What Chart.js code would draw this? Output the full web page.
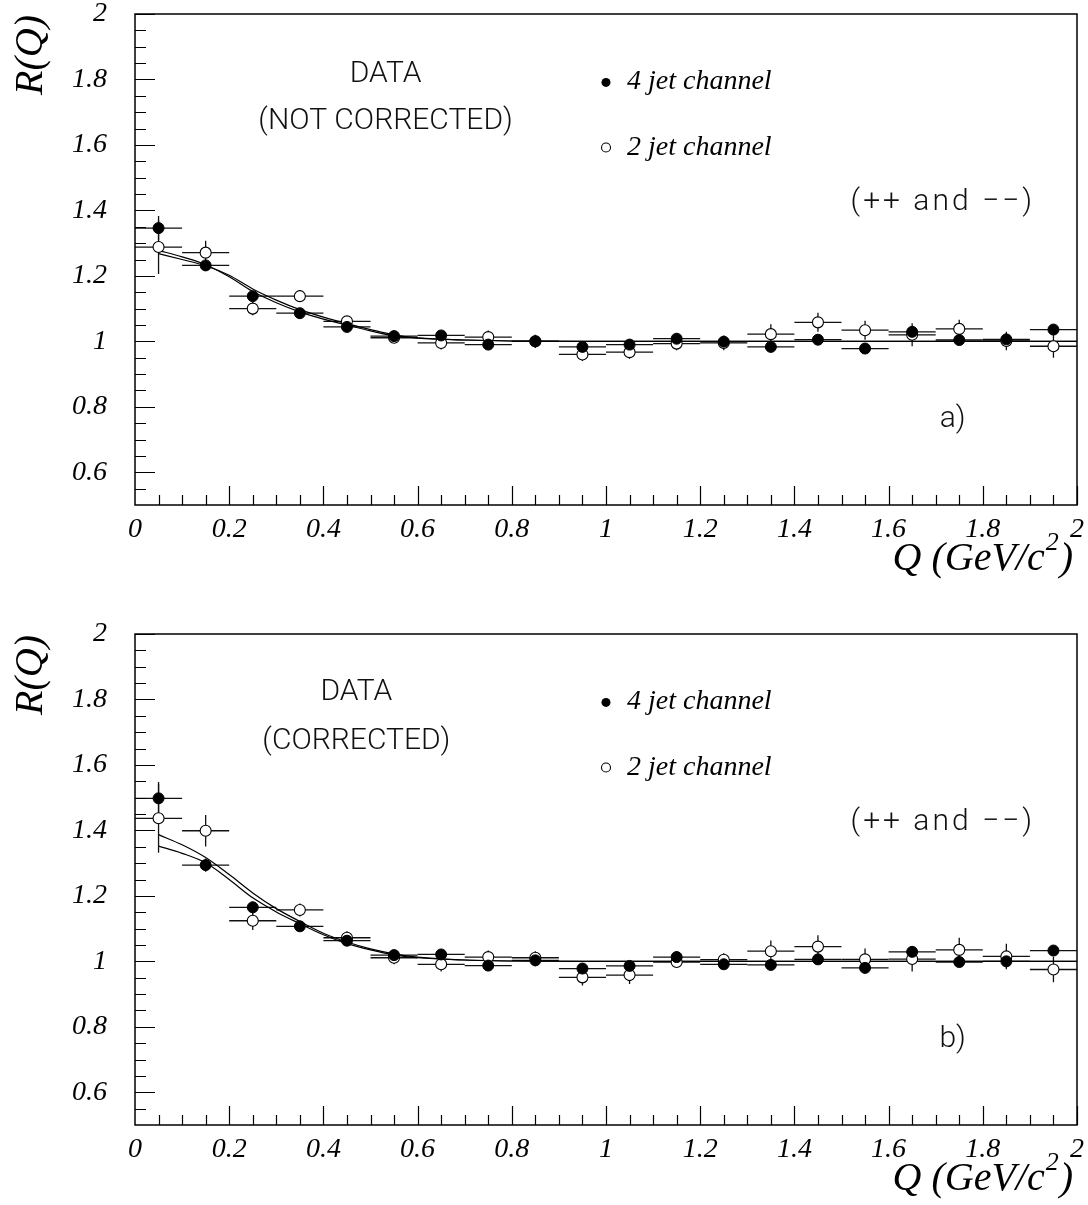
<!DOCTYPE html>
<html>
<head>
<meta charset="utf-8">
<script src="https://cdn.jsdelivr.net/npm/chart.js@4.4.0/dist/chart.umd.min.js"></script>
<style>
  html, body { margin: 0; padding: 0; background: #fff; }
  #wrap { position: relative; width: 1088px; height: 1205px; }
  canvas { position: absolute; left: 0; }
</style>
</head>
<body>
<div id="wrap">
  <canvas id="panelA" width="1088" height="600" style="top:0"></canvas>
  <canvas id="panelB" width="1088" height="605" style="top:600px"></canvas>
</div>
<script>
// bin centres in Q (GeV/c^2), bins are 0.1 wide
const qBins = [0.05, 0.15, 0.25, 0.35, 0.45, 0.55, 0.65, 0.75, 0.85, 0.95,
               1.05, 1.15, 1.25, 1.35, 1.45, 1.55, 1.65, 1.75, 1.85, 1.95];
const halfBin = 0.05;

const xTickVals = [0, 0.2, 0.4, 0.6, 0.8, 1, 1.2, 1.4, 1.6, 1.8, 2];
const yTickVals = [0.6, 0.8, 1, 1.2, 1.4, 1.6, 1.8, 2];

// a) not corrected
const fourJetA    = [1.346, 1.232, 1.138, 1.086, 1.044, 1.016, 1.018, 0.990, 1.000, 0.983,
                     0.990, 1.008, 0.999, 0.983, 1.005, 0.978, 1.029, 1.004, 1.006, 1.036];
const fourJetErrA = [0.037, 0.016, 0.015, 0.012, 0.012, 0.012, 0.012, 0.012, 0.014, 0.012,
                     0.012, 0.012, 0.018, 0.012, 0.012, 0.012, 0.018, 0.012, 0.018, 0.015];
const twoJetA     = [1.288, 1.271, 1.100, 1.138, 1.061, 1.011, 0.995, 1.013, 1.000, 0.960,
                     0.967, 0.993, 0.995, 1.022, 1.058, 1.034, 1.020, 1.038, 1.001, 0.985];
const twoJetErrA  = [0.082, 0.036, 0.020, 0.018, 0.016, 0.016, 0.020, 0.020, 0.020, 0.020,
                     0.020, 0.020, 0.022, 0.030, 0.029, 0.029, 0.035, 0.028, 0.028, 0.035];

// b) corrected
const fourJetB    = [1.498, 1.294, 1.165, 1.107, 1.063, 1.019, 1.021, 0.987, 1.003, 0.978,
                     0.986, 1.013, 0.991, 0.989, 1.006, 0.980, 1.029, 0.998, 1.000, 1.033];
const fourJetErrB = [0.050, 0.020, 0.018, 0.014, 0.014, 0.014, 0.014, 0.014, 0.018, 0.014,
                     0.014, 0.018, 0.014, 0.014, 0.014, 0.014, 0.014, 0.014, 0.018, 0.014];
const twoJetB     = [1.437, 1.399, 1.124, 1.157, 1.072, 1.011, 0.991, 1.013, 1.011, 0.951,
                     0.958, 0.998, 1.005, 1.031, 1.045, 1.006, 1.007, 1.035, 1.015, 0.975];
const twoJetErrB  = [0.105, 0.048, 0.028, 0.020, 0.020, 0.020, 0.022, 0.020, 0.020, 0.025,
                     0.027, 0.016, 0.020, 0.033, 0.035, 0.033, 0.038, 0.037, 0.039, 0.039];

// fit curves
const fitQ  = [0.05, 0.1, 0.15, 0.2, 0.25, 0.3, 0.35, 0.4, 0.45, 0.5, 0.55, 0.6, 0.7, 0.8, 1.0, 1.5, 2.0];
const fitA1 = [1.278, 1.258, 1.234, 1.197, 1.152, 1.118, 1.090, 1.068, 1.050, 1.032, 1.017, 1.010, 1.004, 1.001, 1.000, 1.000, 1.000];
const fitA2 = [1.268, 1.250, 1.231, 1.202, 1.160, 1.126, 1.097, 1.074, 1.054, 1.036, 1.020, 1.011, 1.004, 1.001, 1.000, 1.000, 1.000];
const fitB1 = [1.387, 1.356, 1.317, 1.265, 1.209, 1.161, 1.122, 1.086, 1.059, 1.038, 1.023, 1.013, 1.004, 1.001, 1.000, 1.000, 1.000];
const fitB2 = [1.352, 1.330, 1.301, 1.250, 1.194, 1.151, 1.115, 1.081, 1.054, 1.035, 1.020, 1.011, 1.004, 1.001, 1.000, 1.000, 1.000];

const serifIt = size => 'italic ' + size + 'px "Liberation Serif", "DejaVu Serif", serif';
const sansLight = size => '300 ' + size + 'px Roboto, "Liberation Sans", sans-serif';

const pts = (xs, ys) => xs.map((x, i) => ({x: x, y: ys[i]}));

// frame, inward ticks, error bars, titles and notes
const decor = {
  id: 'decor',
  beforeDatasetsDraw(chart) {
    const {ctx, scales: {x, y}} = chart;
    ctx.save();
    ctx.strokeStyle = '#111';
    ctx.lineWidth = 1.3;
    chart.data.datasets.forEach(ds => {
      if (!ds.errY) return;
      ds.data.forEach((p, i) => {
        const px = x.getPixelForValue(p.x), py = y.getPixelForValue(p.y);
        ctx.beginPath();
        ctx.moveTo(x.getPixelForValue(p.x - halfBin), py);
        ctx.lineTo(x.getPixelForValue(p.x + halfBin), py);
        ctx.moveTo(px, y.getPixelForValue(p.y - ds.errY[i]));
        ctx.lineTo(px, y.getPixelForValue(p.y + ds.errY[i]));
        ctx.stroke();
      });
    });
    ctx.restore();
  },
  afterDraw(chart, args, opts) {
    const {ctx, chartArea: a, scales: {x, y}} = chart;
    ctx.save();
    ctx.strokeStyle = '#000';
    ctx.lineWidth = 1.5;
    ctx.strokeRect(a.left, a.top, a.right - a.left, a.bottom - a.top);

    // ticks pointing into the frame
    ctx.lineWidth = 1.2;
    ctx.beginPath();
    for (let i = 1; i <= 30; i++) {
      const py = Math.round(y.getPixelForValue(0.5 + i * 0.05)) + 0.5;
      const len = (i % 4 === 2) ? 20 : 11;
      ctx.moveTo(a.left, py); ctx.lineTo(a.left + len, py);
    }
    for (let i = 1; i <= 40; i++) {
      const px = Math.round(x.getPixelForValue(i * 0.05)) + 0.5;
      const len = (i % 4 === 0) ? 19 : 10;
      ctx.moveTo(px, a.bottom); ctx.lineTo(px, a.bottom - len);
    }
    ctx.stroke();

    ctx.fillStyle = '#000';
    // y title
    ctx.save();
    ctx.translate(31, a.top + 41);
    ctx.rotate(-Math.PI / 2);
    ctx.font = serifIt(40);
    ctx.textAlign = 'center';
    ctx.textBaseline = 'middle';
    ctx.fillText('R(Q)', 0, 0);
    ctx.restore();

    // x title with superscript
    const base = a.bottom + 65;
    ctx.textAlign = 'left';
    ctx.textBaseline = 'alphabetic';
    ctx.font = serifIt(40);
    const w1 = ctx.measureText('Q (GeV/c').width;
    const w3 = ctx.measureText(')').width;
    ctx.font = serifIt(26);
    const w2 = ctx.measureText('2').width;
    const x0 = a.right - 4 - (w1 + w2 + w3 + 2);
    ctx.font = serifIt(40);
    ctx.fillText('Q (GeV/c', x0, base);
    ctx.font = serifIt(26);
    ctx.fillText('2', x0 + w1 + 1, base - 20);
    ctx.font = serifIt(40);
    ctx.fillText(')', x0 + w1 + w2 + 2, base);

    // text notes placed in data coordinates
    ctx.fillStyle = '#111';
    opts.notes.forEach(n => {
      ctx.font = sansLight(30);
      ctx.letterSpacing = (n.spacing || 0) + 'px';
      ctx.textAlign = 'center';
      ctx.textBaseline = 'middle';
      ctx.fillText(n.text, x.getPixelForValue(n.x), y.getPixelForValue(n.y));
    });
    ctx.letterSpacing = '0px';

    // legend
    opts.legend.forEach(l => {
      const px = x.getPixelForValue(l.x), py = y.getPixelForValue(l.y);
      ctx.beginPath();
      ctx.arc(px, py, 4.5, 0, Math.PI * 2);
      if (l.filled) { ctx.fillStyle = '#000'; ctx.fill(); }
      else { ctx.fillStyle = '#fff'; ctx.fill(); ctx.lineWidth = 1.1; ctx.stroke(); }
      ctx.fillStyle = '#000';
      ctx.font = serifIt(28);
      ctx.textAlign = 'left';
      ctx.textBaseline = 'alphabetic';
      ctx.fillText(l.text, px + 21, py + 7);
    });
    ctx.restore();
  }
};

function noPad(s) {
  s.paddingTop = 0; s.paddingBottom = 0; s.paddingLeft = 0; s.paddingRight = 0;
}

function makePanel(id, fourJet, fourErr, twoJet, twoErr, fit1, fit2, padTop, xHeight, notes) {
  const tickFont = {family: '"Liberation Serif", "DejaVu Serif", serif', style: 'italic', size: 28, lineHeight: 1};
  const fmt = v => String(Math.round(v * 10) / 10);
  return new Chart(document.getElementById(id), {
    type: 'scatter',
    data: {
      datasets: [
        {data: pts(qBins, fourJet), errY: fourErr, pointRadius: 5.5, pointBackgroundColor: '#000',
         pointBorderColor: '#000', pointBorderWidth: 1, showLine: false},
        {data: pts(qBins, twoJet), errY: twoErr, pointRadius: 5.5, pointBackgroundColor: '#fff',
         pointBorderColor: '#000', pointBorderWidth: 1.1, showLine: false},
        {data: pts(fitQ, fit1), showLine: true, pointRadius: 0, borderColor: '#000', borderWidth: 1.2,
         cubicInterpolationMode: 'monotone'},
        {data: pts(fitQ, fit2), showLine: true, pointRadius: 0, borderColor: '#000', borderWidth: 1.2,
         cubicInterpolationMode: 'monotone'}
      ]
    },
    options: {
      responsive: false,
      animation: false,
      events: [],
      layout: {padding: {top: padTop, right: 11, left: 0, bottom: 0}},
      plugins: {
        legend: {display: false},
        tooltip: {enabled: false},
        decor: {
          notes: notes,
          legend: [
            {x: 1.0, y: 1.791, filled: true, text: '4 jet channel'},
            {x: 1.0, y: 1.592, filled: false, text: '2 jet channel'}
          ]
        }
      },
      scales: {
        x: {
          type: 'linear', min: 0, max: 2,
          grid: {display: false, drawTicks: false},
          border: {display: false},
          ticks: {font: tickFont, color: '#000', padding: 11, maxRotation: 0, autoSkip: false, callback: fmt},
          afterBuildTicks: s => { s.ticks = xTickVals.map(v => ({value: v})); },
          afterFit: s => { s.height = xHeight; noPad(s); }
        },
        y: {
          type: 'linear', min: 0.5, max: 2,
          grid: {display: false, drawTicks: false},
          border: {display: false},
          ticks: {font: tickFont, color: '#000', padding: 28, autoSkip: false, callback: fmt},
          afterBuildTicks: s => { s.ticks = yTickVals.map(v => ({value: v})); },
          afterFit: s => { s.width = 135; noPad(s); }
        }
      }
    },
    plugins: [decor]
  });
}

makePanel('panelA', fourJetA, fourJetErrA, twoJetA, twoJetErrA, fitA1, fitA2, 14, 95, [
  {text: 'DATA', x: 0.532, y: 1.816},
  {text: '(NOT CORRECTED)', x: 0.532, y: 1.672},
  {text: '(++ and \u2212\u2212)', x: 1.715, y: 1.423, spacing: 3},
  {text: 'a)', x: 1.736, y: 0.76}
]);

makePanel('panelB', fourJetB, fourJetErrB, twoJetB, twoJetErrB, fitB1, fitB2, 34, 80, [
  {text: 'DATA', x: 0.47, y: 1.822},
  {text: '(CORRECTED)', x: 0.47, y: 1.672},
  {text: '(++ and \u2212\u2212)', x: 1.715, y: 1.423, spacing: 3},
  {text: 'b)', x: 1.736, y: 0.76}
]);
</script>
</body>
</html>
